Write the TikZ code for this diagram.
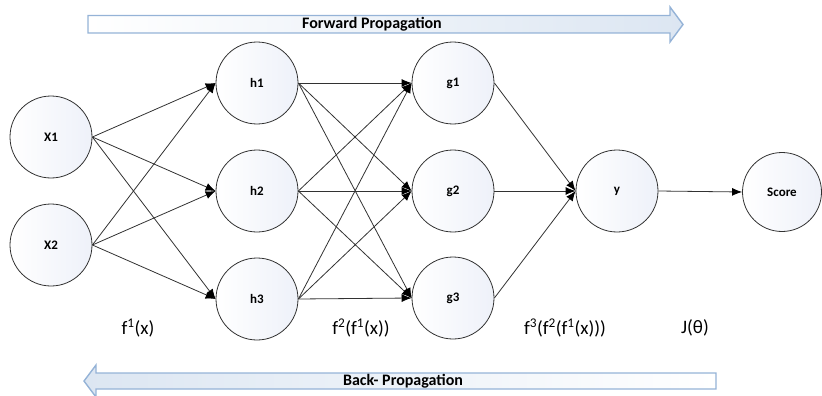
\documentclass[tikz,border=0pt]{standalone}
\usepackage{fontspec}
\setmainfont{Carlito}
\usetikzlibrary{arrows.meta}
\definecolor{arrowborder}{RGB}{149,179,215}
\definecolor{arrowfill}{RGB}{220,230,242}
\definecolor{nodefill}{RGB}{238,241,249}
\definecolor{edgecol}{RGB}{50,50,50}
\tikzset{
  neuron/.style={circle, draw=edgecol, line width=0.8pt, minimum size=82pt, inner sep=0pt,
    left color=white, right color=nodefill, font=\fontsize{13}{15}\selectfont\bfseries},
  conn/.style={draw=edgecol, line width=0.8pt, -{Latex[length=10pt,width=8pt,fill=black,color=black]}},
  biglabel/.style={font=\fontsize{19}{22}\selectfont, inner sep=0pt},
  arrowtext/.style={font=\fontsize{16}{19}\selectfont\bfseries, inner sep=0pt},
  blockarrow/.style={draw=arrowborder, line width=1.4pt, line join=miter}
}
\begin{document}
\begin{tikzpicture}[x=1pt,y=-1pt]
\useasboundingbox (0,0) rectangle (822,396);
% block arrows
\path[blockarrow, left color=white, right color=arrowfill]
  (88,15.5) -- (670,15.5) -- (670,7) -- (683,24.5) -- (670,42) -- (670,33) -- (88,33) -- cycle;
\node[arrowtext] (fp) at (372,24.5) {Forward Propagation};
\path[blockarrow, left color=arrowfill, right color=white]
  (716,373) -- (96,373) -- (96,365) -- (84,381) -- (96,397) -- (96,389) -- (716,389) -- cycle;
\node[arrowtext] (bp) at (403,381) {Back- Propagation};
% neurons
\node[neuron] (x1) at (51,137) {X1};
\node[neuron] (x2) at (51,245) {X2};
\node[neuron] (h1) at (257,83) {h1};
\node[neuron] (h2) at (257,191) {h2};
\node[neuron] (h3) at (257,299) {h3};
\node[neuron] (g1) at (453,83) {g1};
\node[neuron] (g2) at (453,191) {g2};
\node[neuron] (g3) at (453,298) {g3};
\node[neuron] (y) at (617,191) {y};
\node[neuron, minimum size=79pt] (score) at (782,192) {Score};
% connectors
\foreach \s in {x1,x2}
  \foreach \t in {h1,h2,h3}
    \draw[conn] (\s.east) -- (\t.west);
\foreach \s in {h1,h2,h3}
  \foreach \t in {g1,g2,g3}
    \draw[conn] (\s.east) -- (\t.west);
\foreach \s in {g1,g2,g3}
  \draw[conn] (\s.east) -- (y.west);
\draw[conn] (y.east) -- (score.west);
% labels
\node[biglabel] (l1) at (138,328) {f\textsuperscript{1}(x)};
\node[biglabel] (l2) at (361,328) {f\textsuperscript{2}(f\textsuperscript{1}(x))};
\node[biglabel] (l3) at (565,328) {f\textsuperscript{3}(f\textsuperscript{2}(f\textsuperscript{1}(x)))};
\node[biglabel] (l4) at (695,328) {J(θ)};
\end{tikzpicture}
\end{document}
